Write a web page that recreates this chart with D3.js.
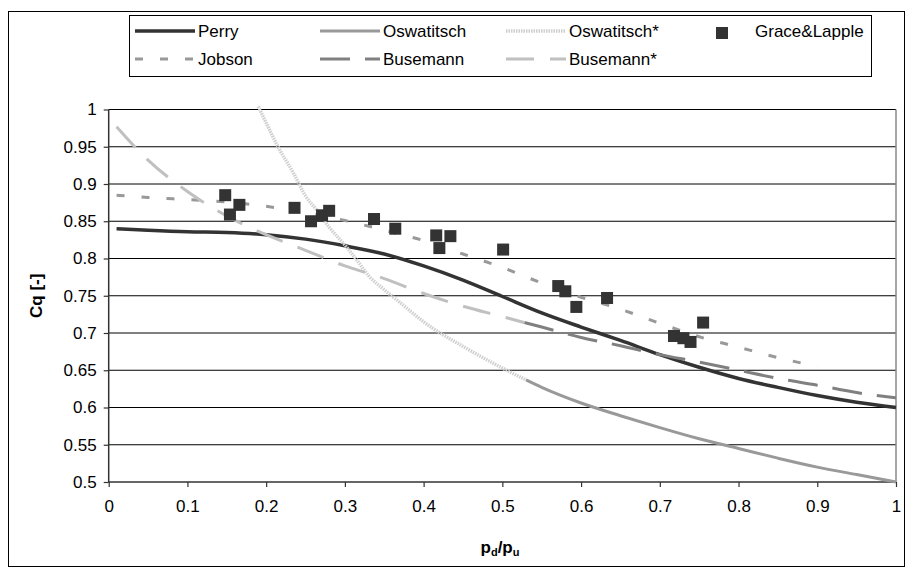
<!DOCTYPE html>
<html>
<head>
<meta charset="utf-8">
<script src="https://cdn.jsdelivr.net/npm/d3@7"></script>
<style>
  body { margin: 0; background: #fff; }
  text { font-family: "Liberation Sans", Arial, sans-serif; }
</style>
</head>
<body>
<script>
const WIDTH = 911;
const HEIGHT = 572;

// x ticks and y ticks
const xTicks = [0, 0.1, 0.2, 0.3, 0.4, 0.5, 0.6, 0.7, 0.8, 0.9, 1];
const yTicks = [0.5, 0.55, 0.6, 0.65, 0.7, 0.75, 0.8, 0.85, 0.9, 0.95, 1];

// series values: [pd/pu, Cq]
const perry = [
    [0.01, 0.840], [0.05, 0.838], [0.1, 0.836], [0.15, 0.835], [0.2, 0.832],
    [0.25, 0.826], [0.3, 0.817], [0.35, 0.806], [0.4, 0.790], [0.45, 0.771],
    [0.5, 0.749], [0.55, 0.727], [0.6, 0.708], [0.65, 0.690], [0.7, 0.671],
    [0.75, 0.654], [0.8, 0.639], [0.85, 0.627], [0.9, 0.616], [0.95, 0.607], [1.0, 0.600]
];
const oswatitsch = [
    [0.53, 0.637], [0.55, 0.627], [0.6, 0.606], [0.65, 0.589], [0.7, 0.573],
    [0.75, 0.558], [0.8, 0.545], [0.85, 0.532], [0.9, 0.520], [0.95, 0.510], [1.0, 0.500]
];
const oswatitschStar = [
    [0.19, 1.004], [0.2, 0.982], [0.215, 0.950], [0.235, 0.914], [0.25, 0.884],
    [0.265, 0.864], [0.28, 0.842], [0.3, 0.818], [0.315, 0.798], [0.33, 0.777],
    [0.35, 0.758], [0.37, 0.741], [0.4, 0.715], [0.45, 0.682], [0.5, 0.653], [0.53, 0.637]
];
const jobson = [
    [0.01, 0.885], [0.05, 0.882], [0.1, 0.879], [0.15, 0.876], [0.2, 0.870],
    [0.25, 0.862], [0.3, 0.851], [0.35, 0.838], [0.4, 0.824], [0.45, 0.806],
    [0.5, 0.788], [0.55, 0.767], [0.6, 0.748], [0.65, 0.732], [0.7, 0.713],
    [0.75, 0.695], [0.8, 0.681], [0.85, 0.667], [0.9, 0.655]
];
const busemann = [
    [0.528, 0.714], [0.55, 0.708], [0.6, 0.694], [0.65, 0.683], [0.7, 0.671],
    [0.75, 0.661], [0.8, 0.650], [0.85, 0.639], [0.9, 0.630], [0.95, 0.620], [1.0, 0.613]
];
const busemannStar = [
    [0.01, 0.977], [0.05, 0.932], [0.1, 0.890], [0.15, 0.857], [0.2, 0.832],
    [0.25, 0.811], [0.3, 0.790], [0.35, 0.773], [0.4, 0.753], [0.45, 0.736],
    [0.5, 0.722], [0.528, 0.714]
];
const graceLapple = [
    [0.148, 0.885], [0.154, 0.859], [0.166, 0.872], [0.236, 0.868], [0.257, 0.850],
    [0.271, 0.858], [0.280, 0.864], [0.337, 0.853], [0.364, 0.840], [0.416, 0.831],
    [0.420, 0.814], [0.434, 0.830], [0.501, 0.812], [0.571, 0.763], [0.580, 0.756],
    [0.594, 0.735], [0.633, 0.747], [0.718, 0.696], [0.730, 0.693], [0.739, 0.688],
    [0.755, 0.714]
];

// line styles per series
const lineSeries = [
    { name: "Perry", data: perry, color: "#333", width: 3.5, dash: null },
    { name: "Oswatitsch", data: oswatitsch, color: "#999", width: 3, dash: null },
    { name: "Oswatitsch*", data: oswatitschStar, color: "#cfcfcf", width: 3.5, dash: "1.5,1" },
    { name: "Jobson", data: jobson, color: "#999", width: 3, dash: "8,17" },
    { name: "Busemann", data: busemann, color: "#808080", width: 3, dash: "30,15" },
    { name: "Busemann*", data: busemannStar, color: "#c0c0c0", width: 3, dash: "28,16" }
];

var svg = d3.select("body").append("svg")
    .attr("width", WIDTH)
    .attr("height", HEIGHT);

svg.append("rect")
    .attr("width", WIDTH).attr("height", HEIGHT)
    .attr("fill", "#fff");

// outer frame
svg.append("rect")
    .attr("x", 8.5).attr("y", 11.5)
    .attr("width", 896).attr("height", 555)
    .attr("fill", "none").attr("stroke", "#000");

var x = d3.scaleLinear().domain([0, 1]).range([108.7, 896]);
var y = d3.scaleLinear().domain([0.5, 1]).range([482, 109.5]);

// horizontal gridlines
svg.append("g").selectAll("line")
    .data(yTicks.slice(1))
    .join("line")
    .attr("x1", x(0)).attr("x2", x(1))
    .attr("y1", d => y(d)).attr("y2", d => y(d))
    .attr("stroke", "#000").attr("stroke-width", 1);

// right edge of plot area
svg.append("line")
    .attr("x1", x(1)).attr("x2", x(1))
    .attr("y1", y(1)).attr("y2", y(0.5))
    .attr("stroke", "#888").attr("stroke-width", 1.5);

// axes
var yAxis = d3.axisLeft(y).tickValues(yTicks).tickSize(5).tickPadding(7)
    .tickFormat(d => d3.format("")(+d.toFixed(2)));
var xAxis = d3.axisBottom(x).tickValues(xTicks).tickSize(5).tickPadding(13)
    .tickFormat(d => d3.format("")(+d.toFixed(1)));

var gy = svg.append("g").attr("transform", "translate(" + x(0) + ",0)").call(yAxis);
var gx = svg.append("g").attr("transform", "translate(0," + y(0.5) + ")").call(xAxis);

[gx, gy].forEach(function (g) {
    g.select(".domain").attr("stroke", "#333").attr("stroke-width", 1.5);
    g.selectAll(".tick line").attr("stroke", "#333").attr("stroke-width", 1.2);
    g.selectAll(".tick text")
        .attr("fill", "#000")
        .style("font-size", "17px")
        .style("font-family", "'Liberation Sans', Arial, sans-serif");
});
gy.select(".domain").attr("d", "M0," + y(1) + "V" + y(0.5));
gx.select(".domain").attr("d", "M" + x(0) + ",0H" + x(1));

// axis titles
svg.append("text")
    .attr("transform", "translate(42," + ((y(1) + y(0.5)) / 2) + ") rotate(-90)")
    .attr("text-anchor", "middle")
    .style("font-size", "17px").style("font-weight", "bold")
    .text("Cq [-]");

var xt = svg.append("text")
    .attr("x", 500).attr("y", 553)
    .attr("text-anchor", "middle")
    .style("font-size", "17px").style("font-weight", "bold");
xt.append("tspan").text("p");
xt.append("tspan").attr("dy", 3).style("font-size", "11px").text("d");
xt.append("tspan").attr("dy", -3).text("/p");
xt.append("tspan").attr("dy", 3).style("font-size", "11px").text("u");

// series lines
var line = d3.line().x(d => x(d[0])).y(d => y(d[1])).curve(d3.curveMonotoneX);

svg.append("g").selectAll("path")
    .data(lineSeries)
    .join("path")
    .attr("d", d => line(d.data))
    .attr("fill", "none")
    .attr("stroke", d => d.color)
    .attr("stroke-width", d => d.width)
    .attr("stroke-dasharray", d => d.dash)
    .attr("stroke-linejoin", "round");

// Grace & Lapple markers
var sq = 12;
svg.append("g").selectAll("rect")
    .data(graceLapple)
    .join("rect")
    .attr("x", d => x(d[0]) - sq / 2)
    .attr("y", d => y(d[1]) - sq / 2)
    .attr("width", sq).attr("height", sq)
    .attr("fill", "#333");

// legend
var legend = svg.append("g");
legend.append("rect")
    .attr("x", 129.5).attr("y", 15.5)
    .attr("width", 742).attr("height", 61)
    .attr("fill", "#fff").attr("stroke", "#000");

const legendPos = {
    "Perry": [135, 31], "Oswatitsch": [320, 31], "Oswatitsch*": [506, 31],
    "Jobson": [135, 59], "Busemann": [320, 59], "Busemann*": [506, 59]
};

lineSeries.forEach(function (s) {
    var p = legendPos[s.name];
    legend.append("line")
        .attr("x1", p[0]).attr("x2", p[0] + 60)
        .attr("y1", p[1]).attr("y2", p[1])
        .attr("stroke", s.color)
        .attr("stroke-width", s.width)
        .attr("stroke-dasharray", s.dash);
    legend.append("text")
        .attr("x", p[0] + 63).attr("y", p[1] + 6)
        .style("font-size", "17px")
        .text(s.name);
});

legend.append("rect")
    .attr("x", 722 - sq / 2).attr("y", 33 - sq / 2)
    .attr("width", sq).attr("height", sq)
    .attr("fill", "#333");
legend.append("text")
    .attr("x", 755).attr("y", 37)
    .style("font-size", "17px")
    .text("Grace&Lapple");
</script>
</body>
</html>
